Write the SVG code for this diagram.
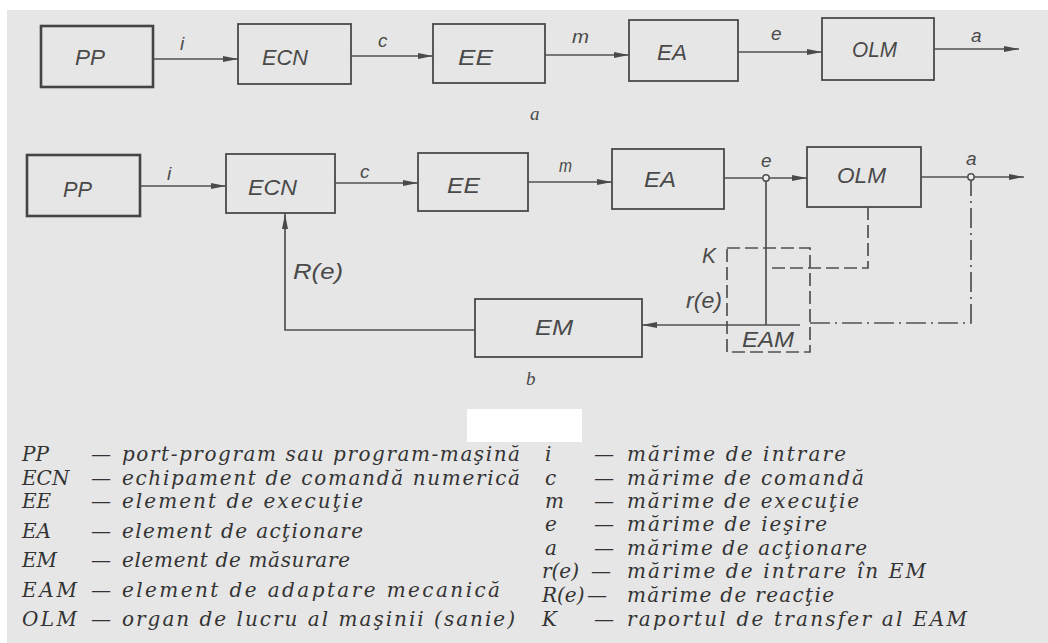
<svg xmlns="http://www.w3.org/2000/svg" width="1048" height="643" viewBox="0 0 1048 643">
<style>
.box{fill:none;stroke:#4a4a4a;stroke-width:1.8}
.thick{fill:none;stroke:#444;stroke-width:2.6}
.ln{fill:none;stroke:#505050;stroke-width:1.7}
.dash{fill:none;stroke:#505050;stroke-width:1.7;stroke-dasharray:13 5}
.dd{fill:none;stroke:#505050;stroke-width:1.7;stroke-dasharray:20 5 2 5}
.lbl{font-family:"Liberation Sans",Arial,sans-serif;font-style:italic;font-size:22px;fill:#4a4a4a}
.sm{font-family:"Liberation Sans",Arial,sans-serif;font-style:italic;font-size:19px;fill:#4a4a4a}
.cap{font-family:"Liberation Serif","Times New Roman",serif;font-style:italic;font-size:19px;fill:#4a4a4a}
.lg{font-family:"DejaVu Serif","Liberation Serif",serif;font-style:italic;font-size:20px;fill:#333333}
</style>
<defs>
<marker id="ah" markerWidth="16" markerHeight="8" refX="15" refY="4" orient="auto" markerUnits="userSpaceOnUse">
<path d="M0,1 L15,4 L0,7 Z" fill="#4a4a4a"/>
</marker>
</defs>
<rect x="0" y="0" width="1048" height="643" fill="#ffffff"/>
<rect x="7" y="10" width="1041" height="633" fill="#e6e6e6"/>
<rect x="467" y="409" width="115" height="33" fill="#ffffff"/>

<!-- Diagram a -->
<g id="a-PP"><rect class="thick" x="41" y="26" width="112" height="61"/><text class="lbl" x="75" y="65" textLength="30" lengthAdjust="spacingAndGlyphs">PP</text></g>
<g id="a-ECN"><rect class="box" x="238" y="24" width="113" height="60"/><text class="lbl" x="262" y="65" textLength="46" lengthAdjust="spacingAndGlyphs">ECN</text></g>
<g id="a-EE"><rect class="box" x="433" y="24" width="112" height="59"/><text class="lbl" x="458" y="65" textLength="35" lengthAdjust="spacingAndGlyphs">EE</text></g>
<g id="a-EA"><rect class="box" x="629" y="20" width="109" height="61"/><text class="lbl" x="657" y="60" textLength="30" lengthAdjust="spacingAndGlyphs">EA</text></g>
<g id="a-OLM"><rect class="box" x="822" y="18" width="112" height="62"/><text class="lbl" x="852" y="57" textLength="45" lengthAdjust="spacingAndGlyphs">OLM</text></g>
<text class="cap" x="530" y="120">a</text>

<!-- Diagram b -->
<g id="b-PP"><rect class="thick" x="27" y="155" width="113" height="61"/><text class="lbl" x="63" y="197" textLength="29" lengthAdjust="spacingAndGlyphs">PP</text></g>
<g id="b-ECN"><rect class="box" x="226" y="154" width="109" height="59"/><text class="lbl" x="248" y="195" textLength="49" lengthAdjust="spacingAndGlyphs">ECN</text></g>
<g id="b-EE"><rect class="box" x="418" y="153" width="110" height="58"/><text class="lbl" x="447" y="193" textLength="33" lengthAdjust="spacingAndGlyphs">EE</text></g>
<g id="b-EA"><rect class="box" x="612" y="149" width="112" height="60"/><text class="lbl" x="644" y="187" textLength="32" lengthAdjust="spacingAndGlyphs">EA</text></g>
<g id="b-OLM"><rect class="box" x="807" y="147" width="114" height="60"/><text class="lbl" x="837" y="183" textLength="49" lengthAdjust="spacingAndGlyphs">OLM</text></g>
<g id="b-EM"><rect class="box" x="475" y="299" width="167" height="58"/><text class="lbl" x="535" y="335" textLength="38" lengthAdjust="spacingAndGlyphs">EM</text></g>
<g id="b-EAM"><rect class="dash" x="727" y="248" width="83" height="104"/><text class="lbl" x="742" y="347" textLength="52" lengthAdjust="spacingAndGlyphs">EAM</text></g>
<text class="cap" x="526" y="385">b</text>

<g id="connectors">
<line class="ln" x1="153" y1="59" x2="238" y2="59" marker-end="url(#ah)"/>
<line class="ln" x1="351" y1="56" x2="433" y2="56" marker-end="url(#ah)"/>
<line class="ln" x1="545" y1="55" x2="629" y2="55" marker-end="url(#ah)"/>
<line class="ln" x1="738" y1="52" x2="822" y2="52" marker-end="url(#ah)"/>
<line class="ln" x1="934" y1="49" x2="1019" y2="49" marker-end="url(#ah)"/>

<line class="ln" x1="140" y1="186" x2="226" y2="186" marker-end="url(#ah)"/>
<line class="ln" x1="335" y1="183" x2="418" y2="183" marker-end="url(#ah)"/>
<line class="ln" x1="528" y1="182" x2="612" y2="182" marker-end="url(#ah)"/>
<line class="ln" x1="724" y1="178" x2="763" y2="178"/>
<line class="ln" x1="769" y1="178" x2="807" y2="178" marker-end="url(#ah)"/>
<line class="ln" x1="921" y1="177" x2="968" y2="177"/>
<line class="ln" x1="974" y1="177" x2="1024" y2="177" marker-end="url(#ah)"/>
<line class="ln" x1="766" y1="181" x2="766" y2="325"/>
<line class="ln" x1="800" y1="325" x2="642" y2="325" marker-end="url(#ah)"/>
<path class="dd" d="M810,323 H971 V180"/>
<path class="dash" d="M868,207 V268 H770"/>
<path class="ln" d="M475,330 H285 V214" marker-end="url(#ah)"/>
<circle cx="766" cy="178" r="3.2" fill="#eeeeee" stroke="#505050" stroke-width="1.5"/>
<circle cx="971" cy="177" r="3.2" fill="#eeeeee" stroke="#505050" stroke-width="1.5"/>
</g>

<g id="connector-labels">
<text class="sm" x="180" y="50">i</text>
<text class="sm" x="378" y="47">c</text>
<text class="sm" x="572" y="43" textLength="17" lengthAdjust="spacingAndGlyphs">m</text>
<text class="sm" x="771" y="40">e</text>
<text class="sm" x="971" y="42">a</text>
<text class="sm" x="167" y="180">i</text>
<text class="sm" x="360" y="178">c</text>
<text class="sm" x="559" y="172" textLength="13" lengthAdjust="spacingAndGlyphs">m</text>
<text class="sm" x="761" y="167">e</text>
<text class="sm" x="966" y="165">a</text>
<text class="lbl" x="293" y="279" textLength="50" lengthAdjust="spacingAndGlyphs">R(e)</text>
<text class="lbl" x="686" y="308" textLength="36" lengthAdjust="spacingAndGlyphs">r(e)</text>
<text class="lbl" x="702" y="263" textLength="14" lengthAdjust="spacingAndGlyphs">K</text>
</g>

<g id="legend">
<text class="lg" x="22" y="461">PP</text>
<text class="lg" x="91" y="461">—</text>
<text class="lg" x="122" y="461" textLength="398" lengthAdjust="spacing">port-program sau program-maşină</text>
<text class="lg" x="22" y="485">ECN</text>
<text class="lg" x="91" y="485">—</text>
<text class="lg" x="122" y="485" textLength="398" lengthAdjust="spacing">echipament de comandă numerică</text>
<text class="lg" x="22" y="508">EE</text>
<text class="lg" x="91" y="508">—</text>
<text class="lg" x="122" y="508" textLength="241" lengthAdjust="spacing">element de execuţie</text>
<text class="lg" x="22" y="538">EA</text>
<text class="lg" x="91" y="538">—</text>
<text class="lg" x="122" y="538" textLength="241" lengthAdjust="spacing">element de acţionare</text>
<text class="lg" x="22" y="567">EM</text>
<text class="lg" x="91" y="567">—</text>
<text class="lg" x="122" y="567" textLength="228" lengthAdjust="spacing">element de măsurare</text>
<text class="lg" x="22" y="597" textLength="55" lengthAdjust="spacing">EAM</text>
<text class="lg" x="91" y="597">—</text>
<text class="lg" x="122" y="597" textLength="378" lengthAdjust="spacing">element de adaptare mecanică</text>
<text class="lg" x="22" y="626" textLength="55" lengthAdjust="spacing">OLM</text>
<text class="lg" x="91" y="626">—</text>
<text class="lg" x="122" y="626" textLength="393" lengthAdjust="spacing">organ de lucru al maşinii (sanie)</text>

<text class="lg" x="545" y="461">i</text>
<text class="lg" x="594" y="461">—</text>
<text class="lg" x="627" y="461" textLength="219" lengthAdjust="spacing">mărime de intrare</text>
<text class="lg" x="545" y="485">c</text>
<text class="lg" x="594" y="485">—</text>
<text class="lg" x="627" y="485" textLength="237" lengthAdjust="spacing">mărime de comandă</text>
<text class="lg" x="545" y="508">m</text>
<text class="lg" x="594" y="508">—</text>
<text class="lg" x="627" y="508" textLength="232" lengthAdjust="spacing">mărime de execuţie</text>
<text class="lg" x="545" y="531">e</text>
<text class="lg" x="594" y="531">—</text>
<text class="lg" x="627" y="531" textLength="200" lengthAdjust="spacing">mărime de ieşire</text>
<text class="lg" x="545" y="555">a</text>
<text class="lg" x="594" y="555">—</text>
<text class="lg" x="627" y="555" textLength="240" lengthAdjust="spacing">mărime de acţionare</text>
<text class="lg" x="542" y="578">r(e)</text>
<text class="lg" x="591" y="578">—</text>
<text class="lg" x="627" y="578" textLength="299" lengthAdjust="spacing">mărime de intrare în EM</text>
<text class="lg" x="542" y="602">R(e)</text>
<text class="lg" x="587" y="602">—</text>
<text class="lg" x="627" y="602" textLength="207" lengthAdjust="spacing">mărime de reacţie</text>
<text class="lg" x="542" y="626">K</text>
<text class="lg" x="594" y="626">—</text>
<text class="lg" x="627" y="626" textLength="340" lengthAdjust="spacing">raportul de transfer al EAM</text>
</g>
</svg>
